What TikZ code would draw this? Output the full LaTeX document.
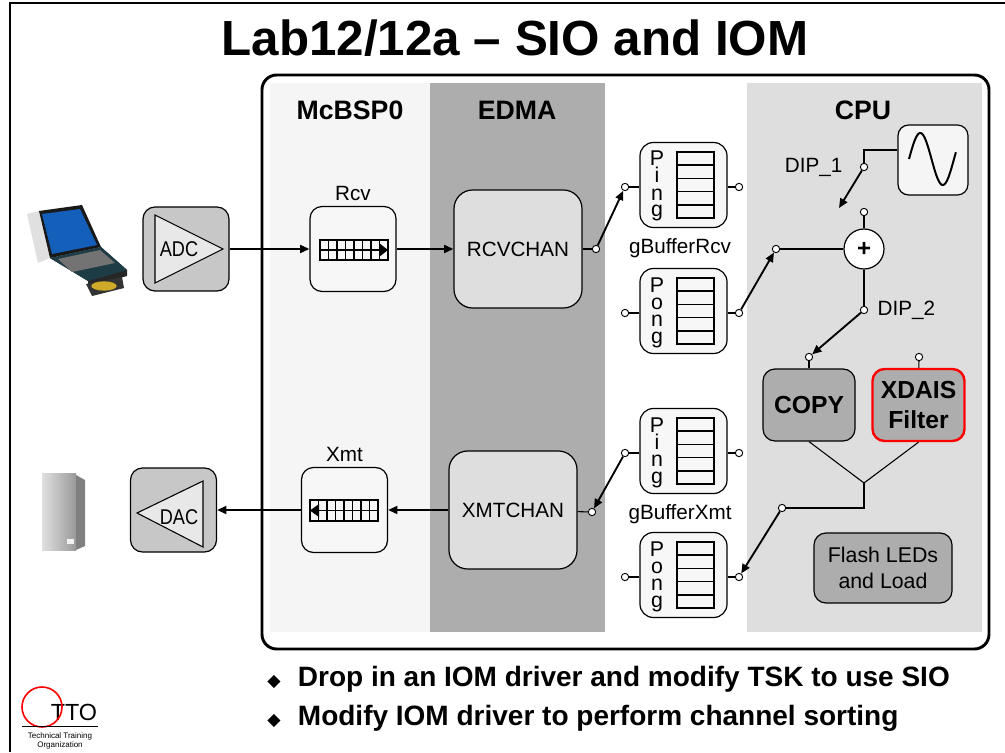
\documentclass[tikz,border=0pt]{standalone}
\usepackage{fontspec}
\setmainfont{Liberation Sans}
\newfontfamily\symfont{DejaVu Sans}
\usetikzlibrary{arrows.meta, positioning}
\definecolor{screenblue}{RGB}{20,95,185}
\definecolor{keybase}{RGB}{30,60,70}
\definecolor{disc}{RGB}{205,170,40}

\begin{document}
\begin{tikzpicture}[x=0.75pt, y=-0.75pt,
        box/.style={rectangle, draw, rounded corners=9pt, line width=0.9pt, inner sep=0pt, align=center},
        conv/.style={box, fill=black!22, minimum width=64.5pt, minimum height=63pt},
        fifo/.style={box, fill=black!3, minimum width=64.5pt, minimum height=63.75pt},
        chan/.style={box, fill=black!13, rounded corners=14pt, minimum width=96pt, minimum height=88.5pt, font=\fontsize{15.5}{18}\selectfont},
        buf/.style={box, fill=black!3, rounded corners=10pt, minimum width=65.25pt, minimum height=63.75pt},
        task/.style={box, fill=black!32, minimum width=69pt, minimum height=54pt, font=\bfseries\fontsize{18.5}{23}\selectfont},
        port/.style={circle, draw, fill=white, line width=0.7pt, inner sep=0pt, minimum size=5.5pt},
        lbl/.style={inner sep=0pt, font=\fontsize{15.5}{18}\selectfont},
        head/.style={font=\bfseries\fontsize{20}{24}\selectfont},
        bullet/.style={anchor=west, inner sep=0pt, font=\bfseries\fontsize{21}{24}\selectfont},
        arr/.style={-{Triangle[length=7pt, width=6pt]}, line width=1.4pt},
        wire/.style={line width=0.8pt},
        node distance=4pt
        ]
    \useasboundingbox (0,0) rectangle (1005,752);

    % slide border and title
    \draw[line width=2.2pt] (10,752) -- (10,3) -- (1005,3);
    \node[font=\bfseries\fontsize{37}{44}\selectfont] (title) at (515,38) {Lab12/12a – SIO and IOM};

    % column bands and frame
    \fill[black!4] (270,83) rectangle (430,632);
    \fill[black!32] (430,83) rectangle (605,632);
    \fill[black!13] (747,83) rectangle (982,632);
    \draw[line width=2.2pt, rounded corners=11pt] (262,75) rectangle (989,649);
    \node[head] (hmcbsp) at (350,110) {McBSP0};
    \node[head] (hedma) at (517,110) {EDMA};
    \node[head] (hcpu) at (863,110) {CPU};

    % laptop
    \fill[black!12] (27,214) -- (39,211) -- (50,258) -- (38,263) -- cycle;
    \fill[black!90] (39,211) -- (82,205) -- (101,247) -- (50,258) -- cycle;
    \fill[screenblue] (42,214) -- (80,209) -- (97,245) -- (52,254) -- cycle;
    \fill[black!85] (50,258) -- (101,247) -- (127,270) -- (127,276) -- (88,287) -- (88,281) -- cycle;
    \fill[keybase] (50,258) -- (101,247) -- (127,270) -- (88,281) -- cycle;
    \fill[black!55] (58,259) -- (100,250) -- (115,263) -- (72,272) -- cycle;
    \fill[black!80] (86,284) -- (122,277) -- (124,288) -- (92,296) -- cycle;
    \fill[disc] (104,286) ellipse[x radius=9.5pt, y radius=3.5pt];

    % speaker
    \shade[left color=black!12, right color=black!40] (42,473) rectangle (76,550);
    \fill[black!50] (76,475) -- (85,480) -- (85,546) -- (76,550) -- cycle;
    \fill[black!5] (67,539) rectangle (74,544);

    % converters
    \node[conv] (adc) at (186,249) {};
    \draw[wire, fill=black!9] (155,215) -- (223,249) -- (155,283) -- cycle;
    \node[font=\fontsize{16}{18}\selectfont] at (179,249) {\scalebox{0.85}[1]{ADC}};
    \node[conv] (dac) at (173.5,510) {};
    \draw[wire, fill=black!9] (137,513) -- (203,481) -- (203,547) -- cycle;
    \node[font=\fontsize{16}{18}\selectfont] at (179,517) {\scalebox{0.85}[1]{DAC}};

    % serial port buffers
    \node[fifo] (rcv) at (353,249) {};
    \node[lbl, above=4pt of rcv] (rcvlbl) {Rcv};
    \draw[line width=1pt] (320,240) rectangle (388,260);
    \draw[line width=0.8pt] (320,250) -- (388,250);
    \foreach \i in {1,...,7} \draw[line width=0.8pt] (320+8.5*\i,240) -- (320+8.5*\i,260);
    \fill (379,243) -- (388,250) -- (379,257) -- cycle;

    \node[fifo] (xmt) at (344.5,510) {};
    \node[lbl, above=4pt of xmt] (xmtlbl) {Xmt};
    \draw[line width=1pt] (310,500) rectangle (378,521);
    \draw[line width=0.8pt] (310,510.5) -- (378,510.5);
    \foreach \i in {1,...,7} \draw[line width=0.8pt] (310+8.5*\i,500) -- (310+8.5*\i,521);
    \fill (319,504) -- (310,510.5) -- (319,517) -- cycle;

    % EDMA channels
    \node[chan] (rcvchan) at (518,249) {RCVCHAN};
    \node[port] (rcvport) at (596,249) {};
    \node[chan] (xmtchan) at (513,510) {XMTCHAN};
    \node[port] (xmtport) at (592,512) {};

    % ping/pong buffers
    \foreach \nm/\cy/\vw in {pingR/185/i, pongR/311/o, pingX/451/i, pongX/575/o} {
        \node[buf] (\nm) at (683.5,\cy) {};
        \foreach \ch [count=\j] in {P,\vw,n,g}
            \node[anchor=base, inner sep=0pt, font=\fontsize{16}{16}\selectfont] at (657,\cy-36+17*\j) {\ch};
        \draw[line width=1.1pt] (677,\cy-33) rectangle (714,\cy+33);
        \foreach \k in {1,...,4} \draw[line width=1.1pt] (677,\cy-33+13.2*\k) -- (714,\cy-33+13.2*\k);
        \node[port] (\nm-in) at (625,\cy+2) {};
        \node[port] (\nm-out) at (739,\cy+2) {};
        \draw[wire] (\nm-in) -- (\nm-in -| \nm.west);
        \draw[wire] (\nm-out) -- (\nm-out -| \nm.east);
    }
    \node[lbl] (gbufrcv) at (680,248) {gBufferRcv};
    \node[lbl] (gbufxmt) at (680,514) {gBufferXmt};

    % CPU side
    \node[box, fill=black!4, rounded corners=8pt, minimum width=52.5pt, minimum height=52.5pt] (sine) at (933,160) {};
    \draw[line width=1.5pt] plot[domain=0:375, samples=60, smooth] ({909+\x/360*45}, {159-26*sin(\x)});
    \node[port] (dip1) at (864,167) {};
    \coordinate (dip1end) at (839,208);
    \node[lbl, left=13pt of dip1] (dip1lbl) {DIP\_1};
    \node[port] (addin) at (864,212) {};
    \node[circle, draw, fill=white, line width=0.9pt, minimum size=30pt, inner sep=0pt, font=\bfseries\fontsize{18}{18}\selectfont] (plus) at (864,249) {+};
    \node[port] (sumin) at (776,249) {};
    \node[port] (dip2) at (864,310) {};
    \node[lbl, right=7pt of dip2] (dip2lbl) {DIP\_2};
    \node[task] (copy) at (809,405) {COPY};
    \node[task, draw=red, line width=1.8pt] (xdais) at (918.5,405) {XDAIS\\Filter};
    \node[port] (copyin) at (809,357) {};
    \node[port] (xdaisin) at (919,357) {};
    \coordinate (merge) at (864,483);
    \node[port] (cpuout) at (782,508) {};
    \node[box, fill=black!32, minimum width=103.5pt, minimum height=52.5pt, font=\fontsize{16}{20}\selectfont] (flash) at (883,568) {Flash LEDs\\and Load};

    % connections
    \draw[arr] (adc) -- (rcv);
    \draw[arr] (rcv) -- (rcvchan);
    \draw[wire] (rcvchan) -- (rcvport);
    \draw[arr] (rcvport) -- (pingR-in);
    \draw[arr] (pongR-out) -- (sumin);
    \draw[wire] (sumin) -- (plus);
    \draw[wire] (dip1) |- ([yshift=7.5pt]sine.west);
    \draw[arr] (dip1) -- (dip1end);
    \draw[wire] (addin) -- (plus);
    \draw[wire] (plus) -- (dip2);
    \draw[arr] (dip2) -- (copyin);
    \draw[wire] (copyin) -- (copy);
    \draw[wire] (xdaisin) -- (xdais);
    \draw[wire] (copy.south) -- (merge);
    \draw[wire] (xdais.south) -- (merge);
    \draw[wire] (merge) |- (cpuout);
    \draw[arr] (cpuout) -- (pongX-out);
    \draw[arr] (pingX-in) -- (xmtport);
    \draw[wire] (xmtchan) -- (xmtport);
    \draw[arr] (xmtchan) -- (xmt);
    \draw[arr] (xmt) -- (dac);

    % bullets
    \node[bullet] (bul1) at (267,679) {{\symfont\fontsize{13}{13}\selectfont ◆}\hspace{13pt}Drop in an IOM driver and modify TSK to use SIO};
    \node[bullet] (bul2) at (267,718) {{\symfont\fontsize{13}{13}\selectfont ◆}\hspace{13pt}Modify IOM driver to perform channel sorting};

    % TTO logo
    \node[font=\fontsize{17.5}{20}\selectfont] (tto) at (74,712) {TTO};
    \draw[red, line width=1.2pt] (42,707) circle[radius=15pt];
    \draw[line width=0.6pt] (22,726) -- (98,726);
    \node[font=\fontsize{6}{6.5}\selectfont, align=center, inner sep=0pt] (ttoname) at (60,741) {Technical Training\\Organization};
\end{tikzpicture}
\end{document}
